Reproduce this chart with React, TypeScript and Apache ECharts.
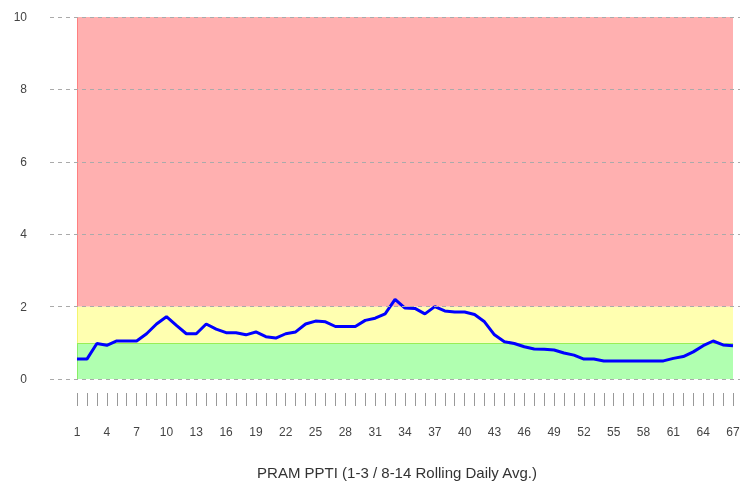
import React, { useEffect, useRef } from "react";
import * as echarts from "echarts";

const categories: string[] = Array.from({ length: 67 }, (_, i) => String(i + 1));
const ppti: number[] = [
  0.55, 0.55, 0.98, 0.93, 1.05, 1.05, 1.05, 1.25, 1.52, 1.72,
  1.48, 1.25, 1.25, 1.52, 1.38, 1.28, 1.28, 1.22, 1.3, 1.17,
  1.13, 1.25, 1.3, 1.52, 1.6, 1.58, 1.45, 1.45, 1.45, 1.62,
  1.68, 1.8, 2.2, 1.96, 1.95, 1.8, 2.0, 1.88, 1.85, 1.85,
  1.78, 1.58, 1.22, 1.03, 0.98, 0.89, 0.83, 0.82, 0.8, 0.72,
  0.66, 0.55, 0.55, 0.5, 0.5, 0.5, 0.5, 0.5, 0.5, 0.5,
  0.57, 0.62, 0.75, 0.92, 1.05, 0.94, 0.92,
];
const bands = [
  { from: 0, to: 1, color: "#b0ffb0", edge: "#88ee66" },
  { from: 1, to: 2, color: "#ffffb0", edge: "#f4f470" },
  { from: 2, to: 10, color: "#ffb0b0", edge: "#ff8080" },
];
const yMin = 0;
const yMax = 10;
const yInterval = 2;
const title = "PRAM PPTI (1-3 / 8-14 Rolling Daily Avg.)";

export default function App() {
  const ref = useRef<HTMLDivElement>(null);
  useEffect(() => {
    if (!ref.current) return;
    const chart = echarts.init(ref.current, null, { renderer: "svg" });
    const first = categories[0];
    const last = categories[categories.length - 1];
    chart.setOption({
      animation: false,
      grid: [
        { left: 50, right: 14, top: 17, bottom: 109, containLabel: false },
        { left: 77, right: 21, top: 17, bottom: 109, containLabel: false },
      ],
      xAxis: [
        { gridIndex: 0, type: "value", min: 0, max: 1, show: false },
        {
          gridIndex: 1,
          type: "category",
          position: "bottom",
          data: categories,
          boundaryGap: false,
          offset: 14,
          axisLine: { show: true, onZero: false, lineStyle: { color: "rgba(0,0,0,0)" } },
          axisTick: { show: true, interval: 0, length: 13, lineStyle: { color: "#999", width: 1 } },
          axisLabel: {
            interval: 2,
            margin: 33,
            color: "#444",
            fontSize: 12,
            fontFamily: "Liberation Sans, Arial, sans-serif",
          },
          splitLine: { show: false },
        },
      ],
      yAxis: [
        {
          gridIndex: 0,
          type: "value",
          min: yMin,
          max: yMax,
          interval: yInterval,
          z: 10,
          axisLine: { show: false },
          axisTick: { show: false },
          axisLabel: {
            margin: 23,
            color: "#444",
            fontSize: 12,
            fontFamily: "Liberation Sans, Arial, sans-serif",
          },
          splitLine: { show: true, lineStyle: { color: "#aaa", type: [4, 4], width: 1 } },
        },
        {
          gridIndex: 1,
          type: "value",
          min: yMin,
          max: yMax,
          interval: yInterval,
          show: false,
          splitLine: { show: false },
        },
      ],
      series: [
        {
          type: "line",
          xAxisIndex: 1,
          yAxisIndex: 1,
          data: ppti,
          showSymbol: false,
          symbol: "none",
          z: 5,
          lineStyle: { color: "#0000ff", width: 3 },
          markArea: {
            silent: true,
            itemStyle: { borderWidth: 0 },
            data: bands.map((b) => [
              { xAxis: first, yAxis: b.from, itemStyle: { color: b.color } },
              { xAxis: last, yAxis: b.to },
            ]),
          },
          markLine: {
            silent: true,
            symbol: "none",
            label: { show: false },
            data: [
              ...bands.map((b) => [
                { coord: [first, b.from], lineStyle: { color: b.edge, width: 1, type: "solid", opacity: 1 } },
                { coord: [first, b.to] },
              ]),
              [
                { coord: [first, 1], lineStyle: { color: "#99ee55", width: 1, type: "solid", opacity: 1 } },
                { coord: [last, 1] },
              ],
            ],
          },
        },
      ],
      graphic: [
        {
          type: "text",
          x: 397,
          y: 472,
          style: {
            text: title,
            fill: "#333",
            fontSize: 15,
            fontFamily: "Liberation Sans, Arial, sans-serif",
            textAlign: "center",
            textVerticalAlign: "middle",
          },
        },
      ],
    });
    return () => chart.dispose();
  }, []);
  return <div ref={ref} style={{ position: "fixed", left: 0, top: 0, width: 754, height: 488 }} />;
}
